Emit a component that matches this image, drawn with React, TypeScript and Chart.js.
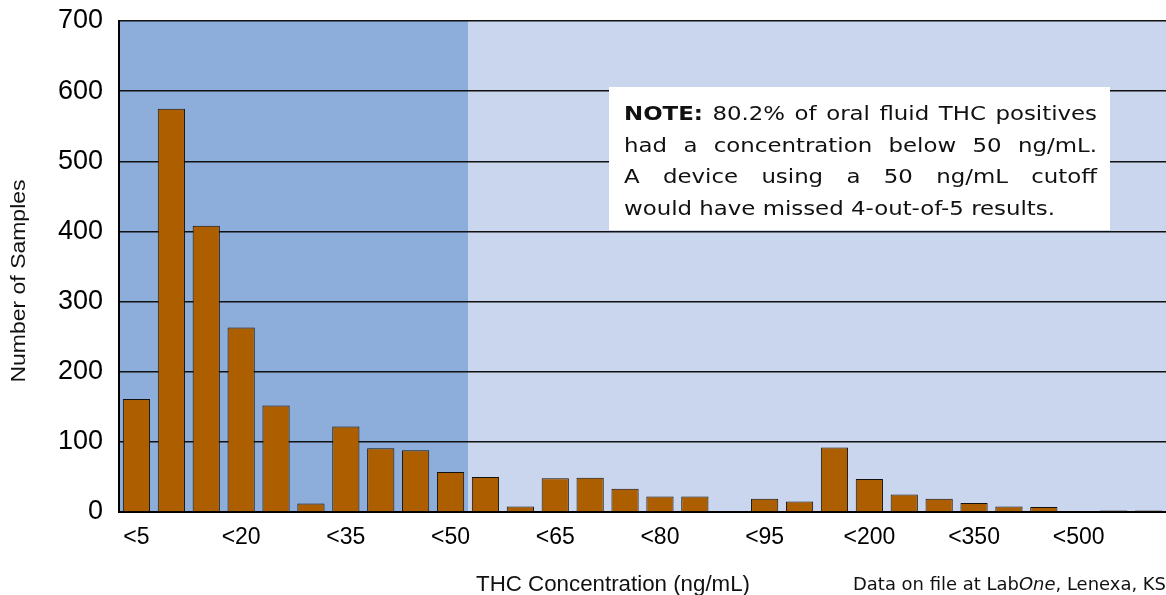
import React, { useEffect, useRef } from "react";
import { Chart, registerables } from "chart.js";

Chart.register(...registerables);

const categories = [
  "<5", "<10", "<15", "<20", "<25", "<30", "<35", "<40", "<45", "<50",
  "<55", "<60", "<65", "<70", "<75", "<80", "<85", "<90", "<95", "<100",
  "<150", "<200", "<250", "<300", "<350", "<400", "<450", "<500", "<1000", ">1000",
];
const sampleCounts = [
  161, 575, 408, 263, 152, 12, 122, 91, 88, 57,
  50, 8, 48, 49, 33, 22, 22, 1, 19, 15,
  92, 47, 25, 19, 13, 8, 7, 1, 2, 2,
];
const yMin = 0;
const yMax = 700;
const yStep = 100;
const labelEvery = 3;
const cutoffIndex = 9; // last category below 50 ng/mL

const yTitle = "Number of Samples";
const xTitle = "THC Concentration (ng/mL)";
const footerParts = [
  { text: "Data on file at Lab", italic: false },
  { text: "One", italic: true },
  { text: ", Lenexa, KS", italic: false },
];
const noteLines = [
  "NOTE: 80.2% of oral fluid THC positives",
  "had a concentration below 50 ng/mL.",
  "A device using a 50 ng/mL cutoff",
  "would have missed 4-out-of-5 results.",
];

const SANS = "'Liberation Sans', Arial, sans-serif";
const GEO = "'DejaVu Sans', sans-serif";

function fitText(ctx: CanvasRenderingContext2D, text: string, x: number, y: number, width: number, font: string, align: CanvasTextAlign) {
  ctx.save();
  ctx.font = font;
  const w = ctx.measureText(text).width;
  ctx.translate(x, y);
  ctx.scale(width / w, 1);
  ctx.textAlign = align;
  ctx.textBaseline = "alphabetic";
  ctx.fillText(text, 0, 0);
  ctx.restore();
}

const decor = {
  id: "decor",
  beforeDraw(chart: any) {
    const { ctx, chartArea: a, scales } = chart;
    const x = scales.x;
    const boundary = (x.getPixelForValue(cutoffIndex) + x.getPixelForValue(cutoffIndex + 1)) / 2;
    ctx.save();
    ctx.fillStyle = "#CAD5EE";
    ctx.fillRect(a.left, a.top, a.right - a.left, a.bottom - a.top);
    ctx.fillStyle = "#8DAEDB";
    ctx.fillRect(a.left, a.top, boundary - a.left, a.bottom - a.top);
    ctx.restore();
  },
  afterDraw(chart: any) {
    const { ctx } = chart;
    ctx.save();
    ctx.fillStyle = "#111";

    // y title
    ctx.save();
    ctx.translate(19, 281);
    ctx.rotate(-Math.PI / 2);
    ctx.font = `20px ${SANS}`;
    const yw = ctx.measureText(yTitle).width;
    ctx.scale(203 / yw, 1);
    ctx.textAlign = "center";
    ctx.textBaseline = "middle";
    ctx.fillText(yTitle, 0, 0);
    ctx.restore();

    // x title
    fitText(ctx, xTitle, 613, 591, 274, `22px ${SANS}`, "center");

    // footer
    ctx.save();
    const fontFor = (it: boolean) => `${it ? "italic " : ""}18px ${GEO}`;
    let total = 0;
    const widths = footerParts.map((p) => {
      ctx.font = fontFor(p.italic);
      const w = ctx.measureText(p.text).width;
      total += w;
      return w;
    });
    const s = 313 / total;
    ctx.translate(853, 590);
    ctx.scale(s, 1);
    let cx = 0;
    ctx.textAlign = "left";
    footerParts.forEach((p, i) => {
      ctx.font = fontFor(p.italic);
      ctx.fillText(p.text, cx, 0);
      cx += widths[i];
    });
    ctx.restore();

    // note box
    const bx = 609, by = 87, bw = 501, bh = 143;
    ctx.fillStyle = "#fff";
    ctx.fillRect(bx, by, bw, bh);
    ctx.fillStyle = "#111";
    const textLeft = 624, textW = 473, lastW = 431;
    const size = 20;
    ctx.font = `${size}px ${GEO}`;
    const natLast = ctx.measureText(noteLines[3]).width;
    const hScale = lastW / natLast;
    const baselines = [120, 151.5, 183, 214.5];
    noteLines.forEach((line, li) => {
      const words = line.split(" ");
      const fonts = words.map((w, wi) => (li === 0 && wi === 0 ? `bold ${size}px ${GEO}` : `${size}px ${GEO}`));
      const ws = words.map((w, wi) => {
        ctx.font = fonts[wi];
        return ctx.measureText(w).width * hScale;
      });
      const sum = ws.reduce((p, c) => p + c, 0);
      ctx.font = `${size}px ${GEO}`;
      const space = ctx.measureText(" ").width * hScale;
      const isLast = li === noteLines.length - 1;
      let gap = isLast ? space : (textW - sum) / (words.length - 1);
      let scale = 1;
      if (!isLast && gap < space * 0.6) {
        gap = space * 0.6;
        scale = textW / (sum + gap * (words.length - 1));
      }
      ctx.save();
      ctx.translate(textLeft, baselines[li]);
      ctx.scale(scale, 1);
      let px = 0;
      ctx.textAlign = "left";
      words.forEach((w, wi) => {
        ctx.save();
        ctx.translate(px, 0);
        ctx.scale(hScale, 1);
        ctx.font = fonts[wi];
        ctx.fillText(w, 0, 0);
        ctx.restore();
        px += ws[wi] + gap;
      });
      ctx.restore();
    });
    ctx.restore();
  },
};

export default function App() {
  const ref = useRef<HTMLCanvasElement>(null);
  useEffect(() => {
    document.body.style.margin = "0";
    if (!ref.current) return;
    const chart = new Chart(ref.current, {
      type: "bar",
      data: {
        labels: categories,
        datasets: [
          {
            data: sampleCounts,
            backgroundColor: "#AD5F00",
            borderColor: "#111",
            borderWidth: 1,
            barPercentage: 0.78,
            categoryPercentage: 1,
          },
        ],
      },
      options: {
        responsive: false,
        animation: false,
        layout: { padding: { top: 21, left: 0, right: 0, bottom: 0 } },
        plugins: { legend: { display: false }, tooltip: { enabled: false } },
        scales: {
          x: {
            grid: { display: false, drawTicks: false },
            border: { display: true, color: "#000", width: 2 },
            ticks: {
              autoSkip: false,
              maxRotation: 0,
              minRotation: 0,
              padding: 12,
              color: "#000",
              font: { family: SANS, size: 23 },
              callback: (_v: any, i: number) => (i % labelEvery === 0 ? categories[i] : ""),
            },
            afterFit: (s: any) => {
              s.height = 83;
              s.paddingLeft = 0;
              s.paddingRight = 0;
            },
          },
          y: {
            min: yMin,
            max: yMax,
            ticks: {
              stepSize: yStep,
              padding: 16,
              color: "#000",
              font: { family: SANS, size: 27 },
            },
            grid: { color: "#111", lineWidth: 1.5, drawTicks: false },
            border: { display: true, color: "#000", width: 2 },
            afterFit: (s: any) => {
              s.width = 119;
              s.paddingTop = 0;
              s.paddingBottom = 0;
            },
          },
        },
      },
      plugins: [decor],
    });
    return () => chart.destroy();
  }, []);
  return (
    <div style={{ width: 1166, height: 595 }}>
      <canvas ref={ref} width={1166} height={595} style={{ display: "block" }} />
    </div>
  );
}
